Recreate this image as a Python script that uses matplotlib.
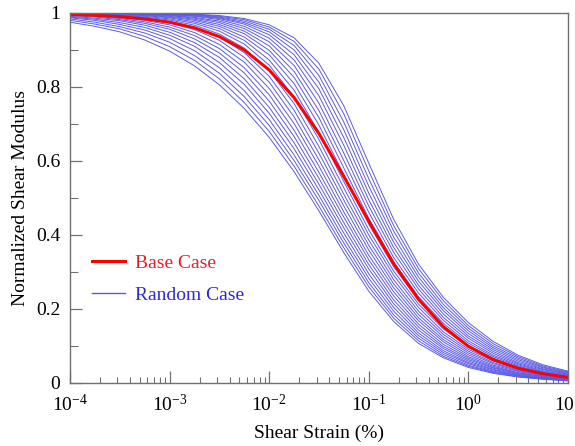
import numpy as np
import matplotlib
matplotlib.use("Agg")
import matplotlib.pyplot as plt
from matplotlib.ticker import LogLocator, MultipleLocator, NullFormatter

plt.rcParams['font.family'] = ['Liberation Serif', 'DejaVu Serif']
plt.rcParams['mathtext.fontset'] = 'stix'

# shear strain (%) where the curves were read
strain = [1e-4, 1.78e-4, 3.16e-4, 5.62e-4, 1e-3, 1.78e-3, 3.16e-3, 5.62e-3,
          1e-2, 1.78e-2, 3.16e-2, 5.62e-2, 0.1, 0.178, 0.316, 0.562,
          1.0, 1.78, 3.16, 5.62, 10.0]

# G/Gmax x 1000
base_case = [996, 994, 990, 984, 975, 960, 936, 900, 846, 771, 674, 558, 437, 322, 226, 152, 99, 63, 40, 25, 15]

random_cases = [
    [975, 964, 949, 927, 897, 857, 806, 742, 664, 571, 465, 352, 248, 166, 107, 68, 42, 26, 16, 10, 6],
    [980, 970, 957, 937, 909, 872, 822, 758, 680, 586, 478, 365, 260, 175, 114, 72, 45, 28, 17, 11, 6],
    [984, 975, 963, 946, 921, 885, 837, 774, 696, 601, 493, 378, 271, 184, 121, 77, 48, 30, 19, 11, 7],
    [987, 980, 969, 954, 931, 898, 852, 790, 712, 616, 507, 391, 283, 194, 128, 82, 52, 32, 20, 12, 8],
    [989, 983, 974, 961, 940, 910, 866, 807, 729, 633, 522, 405, 295, 204, 135, 87, 55, 35, 21, 13, 8],
    [991, 986, 979, 967, 948, 920, 880, 822, 745, 649, 537, 419, 308, 214, 143, 93, 59, 37, 23, 14, 9],
    [993, 989, 982, 972, 956, 930, 892, 838, 762, 666, 553, 433, 320, 224, 151, 98, 63, 40, 25, 15, 10],
    [995, 991, 985, 976, 962, 939, 904, 852, 779, 683, 569, 448, 333, 235, 159, 104, 67, 42, 27, 17, 10],
    [996, 993, 988, 980, 968, 947, 915, 867, 796, 701, 586, 462, 345, 246, 168, 111, 71, 45, 28, 18, 11],
    [997, 994, 990, 984, 973, 955, 926, 880, 813, 719, 603, 478, 359, 257, 176, 117, 76, 48, 31, 19, 12],
    [997, 995, 992, 987, 977, 961, 935, 893, 829, 737, 621, 494, 372, 268, 185, 124, 81, 52, 33, 21, 13],
    [998, 996, 994, 989, 981, 967, 943, 905, 844, 755, 639, 510, 386, 279, 194, 131, 86, 55, 35, 22, 14],
    [998, 997, 995, 991, 984, 972, 951, 916, 859, 773, 658, 527, 400, 291, 204, 138, 91, 59, 37, 24, 15],
    [999, 998, 996, 993, 987, 976, 958, 926, 873, 791, 677, 544, 414, 302, 213, 146, 97, 63, 40, 25, 16],
    [999, 998, 997, 994, 989, 980, 964, 935, 887, 809, 697, 563, 429, 314, 223, 153, 102, 67, 43, 27, 17],
    [999, 999, 997, 995, 991, 983, 969, 944, 899, 826, 717, 581, 445, 327, 233, 161, 108, 71, 46, 29, 18],
    [999, 999, 998, 996, 993, 986, 974, 951, 911, 842, 736, 601, 461, 339, 243, 169, 114, 75, 49, 31, 20],
    [1000, 999, 998, 997, 994, 988, 978, 958, 922, 858, 756, 621, 478, 353, 254, 177, 121, 80, 52, 33, 21],
    [1000, 999, 999, 997, 995, 991, 982, 964, 932, 873, 776, 642, 495, 366, 264, 186, 127, 85, 55, 36, 23],
    [1000, 999, 999, 998, 996, 992, 985, 970, 941, 887, 795, 663, 513, 380, 275, 195, 134, 90, 59, 38, 24],
    [1000, 1000, 999, 998, 997, 994, 987, 974, 949, 900, 813, 684, 532, 394, 286, 203, 141, 95, 63, 41, 26],
    [1000, 1000, 999, 999, 997, 995, 989, 978, 956, 912, 831, 705, 552, 410, 297, 212, 148, 100, 67, 43, 28],
    [1000, 1000, 1000, 999, 998, 996, 991, 982, 962, 923, 848, 727, 573, 425, 309, 222, 155, 106, 71, 46, 30],
    [1000, 1000, 1000, 999, 998, 997, 993, 985, 968, 933, 864, 749, 594, 442, 321, 231, 163, 112, 75, 49, 32],
]

y_ticks = [0, 0.2, 0.4, 0.6, 0.8, 1]
y_ticklabels = ['0', '0.2', '0.4', '0.6', '0.8', '1']

fig = plt.figure(figsize=(5.75, 4.46), dpi=100)
ax = fig.add_axes([0.1217, 0.1413, 0.8661, 0.8296])

for k, g in enumerate(random_cases):
    ax.plot(strain, np.array(g) / 1000, color='#5a5ae8', lw=0.7,
            label='Random Case' if k == 0 else None)
ax.plot(strain, np.array(base_case) / 1000, color='#ff0000', lw=2.2, label='Base Case')

ax.set_xscale('log')
ax.set_xlim(1e-4, 10)
ax.set_ylim(0, 1)
ax.set_yticks(y_ticks)
ax.set_yticklabels(y_ticklabels)
ax.yaxis.set_minor_locator(MultipleLocator(0.1))
ax.xaxis.set_major_locator(LogLocator(base=10, numticks=10))
ax.xaxis.set_minor_locator(LogLocator(base=10, subs=np.arange(2, 10), numticks=10))
ax.xaxis.set_minor_formatter(NullFormatter())

ax.tick_params(which='both', direction='in', top=False, right=False,
               color='#707070', labelsize=14)
ax.tick_params(axis='y', which='major', length=8.5, width=0.9, pad=7)
ax.tick_params(axis='x', which='major', length=8.5, width=0.9, pad=8)
ax.tick_params(axis='x', which='minor', length=4, width=0.8)
ax.tick_params(axis='y', which='minor', length=5.5, width=0.8)
for s in ax.spines.values():
    s.set_color('#707070')
    s.set_linewidth(1.0)

ax.set_xlabel('Shear Strain (%)', fontsize=14, labelpad=7)
ax.set_ylabel('Normalized Shear Modulus', fontsize=14, labelpad=5)

h, l = ax.get_legend_handles_labels()
leg = ax.legend([h[1], h[0]], [l[1], l[0]], loc='upper left',
                bbox_to_anchor=(0.044, 0.348), frameon=False, fontsize=14,
                handlelength=1.7, handletextpad=0.5, labelspacing=0.75,
                borderpad=0, borderaxespad=0)
leg.get_texts()[0].set_color('#e8202a')
leg.get_texts()[1].set_color('#2a2ad8')
leg.get_lines()[1].set_linewidth(1.0)

fig.savefig('out.png', dpi=100)
